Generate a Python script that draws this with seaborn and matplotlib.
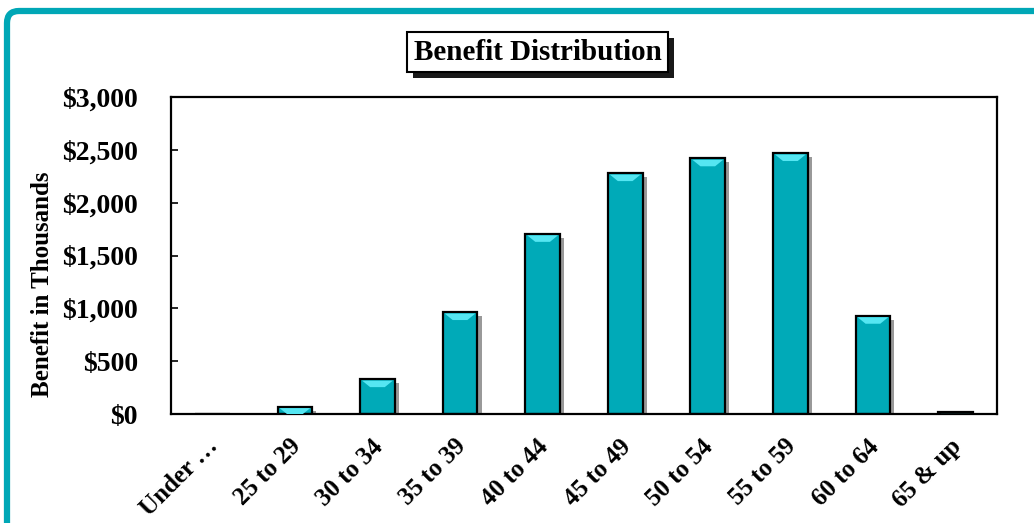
import matplotlib
matplotlib.use("Agg")
import matplotlib.pyplot as plt
import matplotlib.patheffects as pe
from matplotlib.patches import Polygon, FancyBboxPatch
from matplotlib.ticker import StrMethodFormatter, MultipleLocator
from matplotlib.transforms import ScaledTranslation
import seaborn as sns

# Age bands and total benefit (thousands of dollars)
age_bands = ["Under …", "25 to 29", "30 to 34", "35 to 39", "40 to 44",
             "45 to 49", "50 to 54", "55 to 59", "60 to 64", "65 & up"]
benefit = [0, 70, 330, 965, 1705, 2280, 2420, 2470, 930, 15]

title_text = "Benefit Distribution"
y_label = "Benefit in Thousands"

TEAL = "#00AAB8"
BEVEL = "#55E6F2"
FRAME = "#00A7B6"

sns.set_style("white")
plt.rcParams["font.family"] = ["Liberation Serif", "DejaVu Serif"]
plt.rcParams["font.weight"] = "bold"
for key in ["text.color", "axes.labelcolor", "xtick.color", "ytick.color"]:
    plt.rcParams[key] = "black"

fig = plt.figure(figsize=(10.34, 5.23), dpi=100)
fig.patch.set_facecolor("white")
ax = fig.add_axes([0.1654, 0.2084, 0.7986, 0.6061])

sns.barplot(x=age_bands, y=benefit, color=TEAL, saturation=1, width=0.42,
            edgecolor="black", linewidth=1.6, ax=ax)

# drop shadow and top bevel on each bar
px_x = 10 / (0.7986 * 1034)      # data units per pixel along x
px_y = 3000 / (0.6061 * 523)     # data units per pixel along y
for bar in ax.patches:
    bar.set_path_effects([pe.SimplePatchShadow(offset=(3, -3), shadow_rgbFace="black",
                                               alpha=0.4), pe.Normal()])
    x0 = bar.get_x()
    w = bar.get_width()
    top = bar.get_height()
    if top <= 0:
        continue
    bh = min(8 * px_y, top)
    inset = min(8 * px_x, w / 2.5) * (bh / (8 * px_y))
    ax.add_patch(Polygon([(x0 + 2 * px_x, top - 1.5 * px_y),
                          (x0 + w - 2 * px_x, top - 1.5 * px_y),
                          (x0 + w - 2 * px_x - inset, top - bh),
                          (x0 + 2 * px_x + inset, top - bh)],
                         closed=True, facecolor=BEVEL, edgecolor="none", zorder=3))

ax.set_ylim(0, 3000)
ax.set_xlim(-0.5, len(age_bands) - 0.5)
ax.yaxis.set_major_locator(MultipleLocator(500))
ax.yaxis.set_major_formatter(StrMethodFormatter("${x:,.0f}"))

for side in ["left", "right", "top", "bottom"]:
    ax.spines[side].set_visible(True)
    ax.spines[side].set_color("black")
    ax.spines[side].set_linewidth(1.6)

ax.tick_params(axis="y", direction="in", length=5, width=1.2, pad=24,
               labelsize=20, left=True)
ax.tick_params(axis="x", length=0, pad=15, labelsize=18)
for lbl in ax.get_yticklabels():
    lbl.set_fontweight("bold")
offset = ScaledTranslation(-6 / 100, 0, fig.dpi_scale_trans)
for lbl in ax.get_xticklabels():
    lbl.set_rotation(45)
    lbl.set_ha("right")
    lbl.set_va("top")
    lbl.set_rotation_mode("anchor")
    lbl.set_fontweight("bold")
    lbl.set_transform(lbl.get_transform() + offset)

ax.set_xlabel("")
ax.set_ylabel(y_label, fontsize=18, fontweight="bold")
ax.yaxis.set_label_coords(-0.142, 0.41)

# boxed title with a solid drop shadow
t = fig.text(0.520, 0.900, title_text, ha="center", va="center", fontsize=21,
             fontweight="bold",
             bbox=dict(boxstyle="square,pad=0.22", fc="white", ec="black", lw=1.5))
t.get_bbox_patch().set_path_effects([
    pe.SimplePatchShadow(offset=(4, -4), shadow_rgbFace="black", alpha=0.9),
    pe.Normal()])

# teal frame around the chart area
frame = FancyBboxPatch((7, -60), 1150, 512 + 60, boxstyle="round,pad=0,rounding_size=12",
                       transform=None, fill=False, edgecolor=FRAME, linewidth=4.5,
                       zorder=0)
fig.patches.append(frame)

fig.savefig("out.png", dpi=100, facecolor="white")
